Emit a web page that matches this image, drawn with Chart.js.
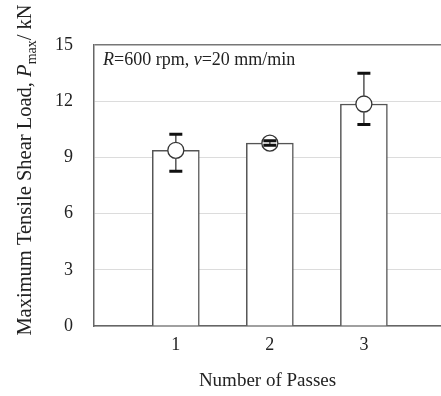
<!DOCTYPE html>
<html>
<head>
<meta charset="utf-8">
<script src="https://cdn.jsdelivr.net/npm/chart.js@4.4.1/dist/chart.umd.min.js"></script>
<style>
  html, body { margin: 0; padding: 0; background: #fff; overflow: hidden; }
  #wrap { width: 441px; height: 396px; }
  canvas { display: block; }
</style>
</head>
<body>
<div id="wrap"><canvas id="myChart" width="441" height="396"></canvas></div>
<script>
// values
const passes = [1, 2, 3];
const loadMean = [9.38, 9.76, 11.85];
const loadHigh = [10.23, 9.89, 13.49];
const loadLow = [8.26, 9.65, 10.76];
const yTicks = [0, 3, 6, 9, 12, 15];

const serif = "'Liberation Serif', 'Times New Roman', serif";
const markerRadius = 8;

// error bars drawn on top of the markers
const errorBars = {
    id: 'errorBars',
    afterDatasetsDraw(chart) {
        const ctx = chart.ctx;
        const xs = chart.scales.x, ys = chart.scales.y;
        ctx.save();
        passes.forEach((p, i) => {
            const x = xs.getPixelForValue(p);
            const yc = ys.getPixelForValue(loadMean[i]);
            const yh = ys.getPixelForValue(loadHigh[i]);
            const yl = ys.getPixelForValue(loadLow[i]);
            ctx.strokeStyle = '#555';
            ctx.lineWidth = 1.5;
            ctx.beginPath();
            if (yc - yh > markerRadius) {
                ctx.moveTo(x, yh); ctx.lineTo(x, yc - markerRadius);
                ctx.moveTo(x, yc + markerRadius); ctx.lineTo(x, yl);
            } else {
                ctx.moveTo(x, yh); ctx.lineTo(x, yl);
            }
            ctx.stroke();
            ctx.strokeStyle = '#111';
            ctx.lineWidth = 3;
            ctx.beginPath();
            ctx.moveTo(x - 6.5, yh); ctx.lineTo(x + 6.5, yh);
            ctx.moveTo(x - 6.5, yl); ctx.lineTo(x + 6.5, yl);
            ctx.stroke();
        });
        ctx.restore();
    }
};

function drawRuns(ctx, runs, x, y) {
    let cx = x;
    runs.forEach(r => {
        ctx.font = r.font;
        ctx.fillText(r.text, cx, y + (r.dy || 0));
        cx += ctx.measureText(r.text).width;
    });
    return cx - x;
}

// y title with subscript, and the condition note
const texts = {
    id: 'texts',
    afterDraw(chart) {
        const ctx = chart.ctx;
        const area = chart.chartArea;
        ctx.save();
        ctx.fillStyle = '#222';
        ctx.textBaseline = 'alphabetic';
        drawRuns(ctx, [
            { text: 'R', font: 'italic 18px ' + serif },
            { text: '=600 rpm, ', font: '18px ' + serif },
            { text: 'v', font: 'italic 18px ' + serif },
            { text: '=20 mm/min', font: '18px ' + serif }
        ], area.left + 9, area.top + 20);

        const title = [
            { text: 'Maximum Tensile Shear Load, ', font: '20.5px ' + serif },
            { text: 'P', font: 'italic 20.5px ' + serif },
            { text: 'max', font: '14px ' + serif, dy: 5 },
            { text: '/ kN', font: '20.5px ' + serif }
        ];
        let w = 0;
        title.forEach(r => { ctx.font = r.font; w += ctx.measureText(r.text).width; });
        ctx.translate(31, 170);
        ctx.rotate(-Math.PI / 2);
        drawRuns(ctx, title, -w / 2, 0);
        ctx.restore();
    }
};

const data = {
    datasets: [{
        type: 'bar',
        label: 'Pmax',
        data: passes.map((p, i) => ({ x: p, y: loadMean[i] })),
        backgroundColor: '#ffffff',
        borderColor: '#555',
        borderWidth: 1.5,
        barThickness: 47,
        order: 2
    }, {
        type: 'scatter',
        label: 'mean',
        data: passes.map((p, i) => ({ x: p, y: loadMean[i] })),
        pointStyle: 'circle',
        pointRadius: markerRadius,
        backgroundColor: '#ffffff',
        borderColor: '#333',
        borderWidth: 1.3,
        order: 1
    }]
};

const config = {
    type: 'bar',
    data: data,
    options: {
        responsive: false,
        animation: false,
        layout: { autoPadding: false, padding: { top: 45, right: 0, left: 0, bottom: 0 } },
        plugins: {
            legend: { display: false },
            tooltip: { enabled: false }
        },
        scales: {
            x: {
                type: 'linear',
                min: 0.13,
                max: 3.82,
                offset: false,
                afterBuildTicks: (scale) => { scale.ticks = passes.map(v => ({ value: v })); },
                afterFit: (scale) => {
                    scale.height = 70;
                    scale.paddingLeft = 0;
                    scale.paddingRight = 0;
                },
                grid: { display: false, drawTicks: false },
                border: { color: '#666', width: 1.5 },
                ticks: { color: '#222', font: { family: serif, size: 18 }, padding: 8 },
                title: {
                    display: true,
                    text: 'Number of Passes',
                    color: '#222',
                    font: { family: serif, size: 19 },
                    padding: { top: 12 }
                }
            },
            y: {
                min: 0,
                max: 15,
                afterBuildTicks: (scale) => { scale.ticks = yTicks.map(v => ({ value: v })); },
                afterFit: (scale) => { scale.width = 94; },
                grid: {
                    drawTicks: false,
                    color: (c) => c.tick && c.tick.value === 15 ? '#777' : '#dcdcdc',
                    lineWidth: (c) => c.tick && c.tick.value === 15 ? 1.5 : 1
                },
                border: { color: '#666', width: 1.5 },
                ticks: { color: '#222', font: { family: serif, size: 18 }, padding: 21 }
            }
        }
    },
    plugins: [errorBars, texts]
};

const ctx = document.getElementById('myChart').getContext('2d');
const myChart = new Chart(ctx, config);
</script>
</body>
</html>
